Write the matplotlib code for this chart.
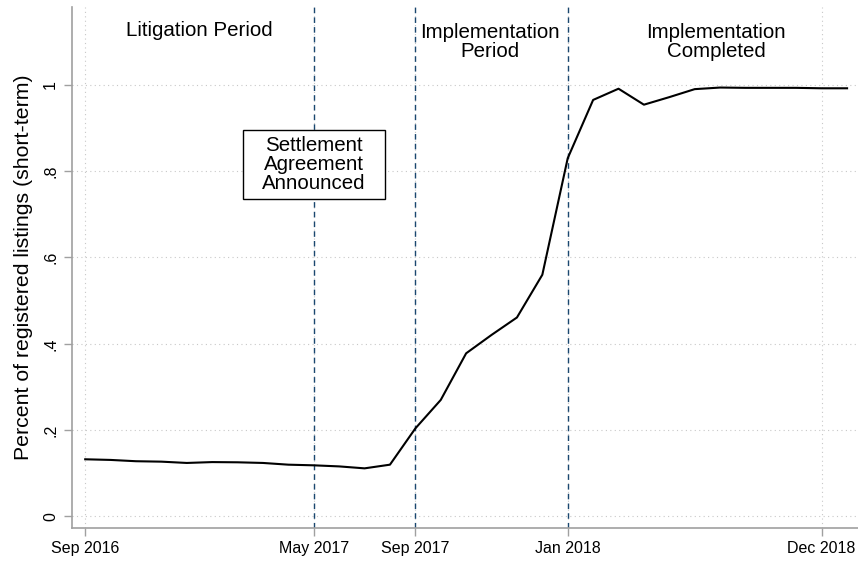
import matplotlib.pyplot as plt
from matplotlib.patches import Rectangle

plt.rcParams['font.family'] = ['Liberation Sans', 'DejaVu Sans']

# share of listings registered, one point per period step
period_idx = list(range(31))
share_registered = [0.1325, 0.131, 0.128, 0.127, 0.124, 0.126, 0.1255, 0.124, 0.120, 0.1185,
                    0.116, 0.1115, 0.120, 0.204, 0.270, 0.378, 0.4206, 0.461, 0.560, 0.830,
                    0.965, 0.991, 0.954, 0.9715, 0.990, 0.9937, 0.993, 0.993, 0.993, 0.992,
                    0.992]

tick_pos = [0, 9, 13, 19, 29]
tick_labels = ['Sep 2016', 'May 2017', 'Sep 2017', 'Jan 2018', 'Dec 2018']
event_pos = [9, 13, 19]

fig = plt.figure(figsize=(8.58, 5.63), dpi=100)
ax = fig.add_axes([72 / 858, 1 - 528 / 563, 1 - 72 / 858, (528 - 6.7) / 563])

ax.plot(period_idx, share_registered, color='black', lw=1.5, zorder=3)

for x in event_pos:
    ax.axvline(x, color='#1a476f', lw=1, ls=(0, (4, 3)), zorder=2)

ax.set_xlim(-0.52, 30.43)
ax.set_ylim(-0.0267, 1.181)
ax.set_xticks(tick_pos)
ax.set_xticklabels(tick_labels)
ax.set_yticks([0, 0.2, 0.4, 0.6, 0.8, 1.0])
ax.set_yticklabels(['0', '.2', '.4', '.6', '.8', '1'], rotation=90, va='center')
ax.grid(True, color='#c8c8c8', ls=(0, (1, 3)), lw=0.8)
ax.set_axisbelow(True)

for s in ['top', 'right']:
    ax.spines[s].set_visible(False)
for s in ['left', 'bottom']:
    ax.spines[s].set_color('#a0a0a0')
    ax.spines[s].set_linewidth(1.2)
ax.tick_params(colors='#a0a0a0', length=6, width=1, labelcolor='black', labelsize=11.5)
ax.tick_params(axis='y', pad=4)

ax.set_ylabel('Percent of registered listings (short-term)', fontsize=15.3, labelpad=7)

ax.text(4.5, 1.127, 'Litigation Period', ha='center', va='center', fontsize=14.8)
ax.text(15.95, 1.10, 'Implementation\nPeriod', ha='center', va='center', fontsize=14.8,
        linespacing=1.0)
ax.text(24.85, 1.10, 'Implementation\nCompleted', ha='center', va='center', fontsize=14.8,
        linespacing=1.0)
note = ax.text(9, 0.815, 'Settlement\nAgreement\nAnnounced', ha='center', va='center',
               fontsize=14.8, linespacing=0.98, zorder=5)

# box around the note, wider padding left/right than top/bottom
fig.canvas.draw()
bb = note.get_window_extent()
padx, pady = 19, 6
box = Rectangle((bb.x0 - padx, bb.y0 - pady), bb.width + 2 * padx, bb.height + 2 * pady,
                transform=None, fc='white', ec='black', lw=1, zorder=4)
ax.add_artist(box)

fig.savefig('out.png', dpi=100)
